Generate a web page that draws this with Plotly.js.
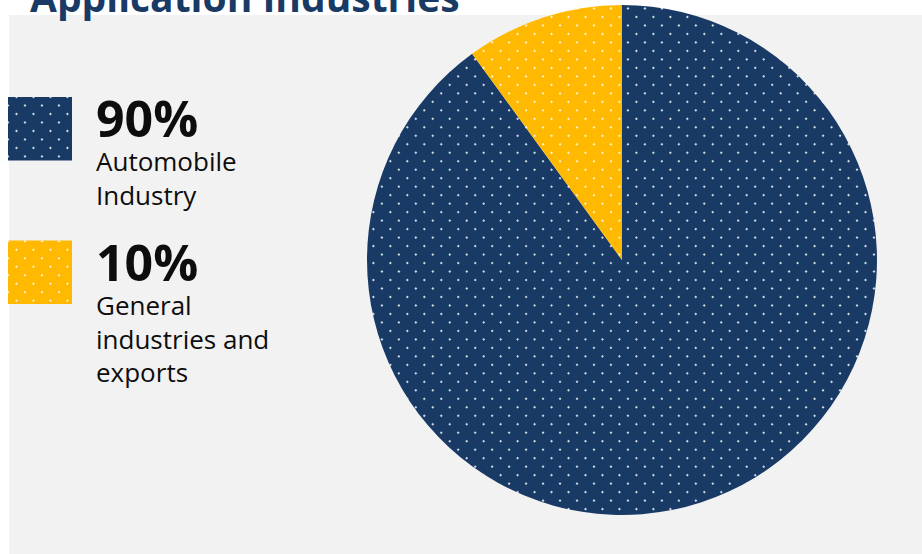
<!DOCTYPE html>
<html><head><meta charset="utf-8">
<script src="https://cdn.plot.ly/plotly-3.0.1.min.js"></script>
<style>html,body{margin:0;padding:0;background:#fff}</style>
</head><body>
<div id="chart" style="width:922px;height:554px"></div>
<script>
const categories = ['Automobile Industry', 'General industries and exports'];
const shares = [90, 10];
const shareLabels = ['90%', '10%'];
const labelLines = [['Automobile', 'Industry'], ['General', 'industries and', 'exports']];
const sliceColors = ['#1a3a66', '#ffb900'];
const chartTitle = 'Application Industries';

const W = 922, H = 554;
const px = x => x / W;
const py = y => 1 - y / H;
const FONT = 'Open Sans, sans-serif';

const pattern = {shape: '.', fillmode: 'overlay', fgcolor: '#ffffff', fgopacity: 1, size: 12, solidity: 0.025};

const pie = {
  type: 'pie', labels: categories, values: shares, sort: false, direction: 'clockwise', rotation: 0,
  marker: {colors: sliceColors, line: {width: 0}, pattern: pattern},
  textinfo: 'none', hoverinfo: 'none', showlegend: false,
  domain: {x: [px(367), px(877)], y: [py(515), py(5)]}
};

const swatches = categories.map((c, i) => ({
  type: 'bar', orientation: 'h', y: [c], x: [1], width: 0.444,
  marker: {color: sliceColors[i], line: {width: 0}, pattern: pattern},
  xaxis: 'x2', yaxis: 'y2', hoverinfo: 'none', showlegend: false
}));

const annotations = [];
annotations.push({xref: 'paper', yref: 'paper', x: px(28), y: py(-3), xanchor: 'left', yanchor: 'middle',
  text: '<b>' + chartTitle + '</b>', showarrow: false, font: {family: FONT, size: 39, color: '#1a3a66'}});
const blockTop = [82, 226];
shareLabels.forEach((s, i) => {
  annotations.push({xref: 'paper', yref: 'paper', x: px(94), y: py(blockTop[i]), xanchor: 'left', yanchor: 'top', align: 'left',
    text: '<b><span style="font-size:50px">' + s + '</span></b><br>' + labelLines[i].join('<br>'),
    showarrow: false, font: {family: FONT, size: 26, color: '#0d0d0d'}});
});

const layout = {
  width: W, height: H, margin: {l: 0, r: 0, t: 0, b: 0},
  paper_bgcolor: '#ffffff', plot_bgcolor: 'rgba(0,0,0,0)',
  showlegend: false, barmode: 'overlay',
  shapes: [{type: 'rect', xref: 'paper', yref: 'paper', x0: px(9), x1: 1, y0: 0, y1: py(15), fillcolor: '#f2f2f2', line: {width: 0}, layer: 'below'}],
  xaxis: {visible: false}, yaxis: {visible: false},
  xaxis2: {domain: [px(8), px(72)], range: [0, 1], visible: false, fixedrange: true, anchor: 'y2'},
  yaxis2: {domain: [py(304), py(97)], range: [1.21875, -0.21875], visible: false, type: 'category', categoryarray: categories, fixedrange: true, anchor: 'x2'},
  annotations: annotations
};

Plotly.newPlot('chart', [pie, ...swatches], layout, {displayModeBar: false, staticPlot: true}).then(gd => {
  gd.querySelectorAll('pattern').forEach(p => p.setAttribute('patternTransform', 'rotate(45)'));
});
</script>
</body></html>
